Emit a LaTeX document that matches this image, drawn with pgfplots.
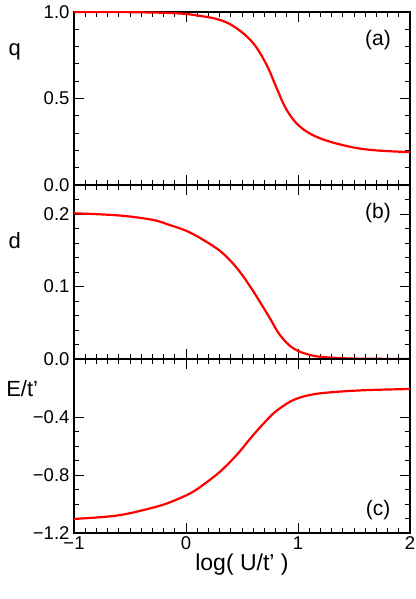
\documentclass[border=0pt]{standalone}
\usepackage{fontspec}
\setmainfont{Liberation Sans}
\usepackage{pgfplots}
\pgfplotsset{compat=1.18}

\definecolor{curveRed}{HTML}{FF0000}

\begin{document}
\begin{tikzpicture}
\path[use as bounding box] (0pt,0pt) rectangle (415pt,599pt);

\tikzset{
  lab/.style={font=\fontsize{21}{24}\selectfont},
  ylab/.style={font=\fontsize{22}{26}\selectfont},
}
\pgfplotsset{
  panel/.style={
    scale only axis,
    width=336pt,
    xmin=-1, xmax=2,
    xtick={-1,0,1,2},
    minor x tick num=9,
    xticklabels={},
    tick align=inside,
    xtick pos=both, ytick pos=both,
    major tick length=10pt,
    minor tick length=5pt,
    axis line style={line width=1.5pt},
    every tick/.style={line width=0.9pt, black},
    tick label style={font=\fontsize{18.5}{22}\selectfont},
    yticklabel style={xshift=-1pt},
    clip mode=individual,
  },
  curve/.style={color=curveRed, line width=2.2pt, smooth, tension=0.6, no marks},
}

% === Panel (a): q ===
\begin{axis}[panel, at={(74pt,414pt)}, anchor=south west, height=173pt,
    ymin=0, ymax=1,
    ytick={0,0.5,1}, yticklabels={0.0,0.5,1.0},
    minor y tick num=4]
\addplot[curve] coordinates {
  (-1,1.0) (-0.5,0.999) (-0.1,0.993) (0.1,0.980) (0.304,0.954) (0.452,0.906)
  (0.601,0.819) (0.72,0.694) (0.81,0.559) (0.899,0.434) (1.018,0.337)
  (1.196,0.270) (1.464,0.221) (1.7,0.200) (2,0.190)
};
\node[ylab] at (rel axis cs:-0.176,0.77) {q};
\node[lab] at (rel axis cs:0.905,0.84) {(a)};
\end{axis}

% === Panel (b): d ===
\begin{axis}[panel, at={(74pt,240pt)}, anchor=south west, height=174pt,
    ymin=0, ymax=0.24,
    ytick={0,0.1,0.2}, yticklabels={0.0,0.1,0.2},
    minor ytick={0.02,0.04,0.06,0.08,0.12,0.14,0.16,0.18,0.22}]
\addplot[curve] coordinates {
  (-1,0.201) (-0.6,0.198) (-0.3,0.192) (-0.15,0.185) (0,0.177) (0.125,0.167)
  (0.2,0.160) (0.304,0.149) (0.4,0.135) (0.482,0.120) (0.56,0.103)
  (0.631,0.086) (0.75,0.056) (0.839,0.033) (0.958,0.0147)
  (1.107,0.0055) (1.256,0.0023) (1.5,0.0006) (2,0)
};
\node[ylab] at (rel axis cs:-0.176,0.68) {d};
\node[lab] at (rel axis cs:0.905,0.84) {(b)};
\end{axis}

% === Panel (c): E/t' ===
\begin{axis}[panel, at={(74pt,66pt)}, anchor=south west, height=174pt,
    ymin=-1.2, ymax=0,
    ytick={-1.2,-0.8,-0.4}, yticklabels={−1.2,−0.8,−0.4},
    minor y tick num=3,
    xticklabels={−1,0,1,2},
    xlabel={log( U/t’ )},
    xlabel style={font=\fontsize{23}{26}\selectfont, yshift=3pt}]
\addplot[curve] coordinates {
  (-1,-1.103) (-0.62,-1.080) (-0.32,-1.030) (-0.16,-0.993) (0,-0.941)
  (0.08,-0.907) (0.155,-0.867) (0.304,-0.777) (0.452,-0.662) (0.601,-0.524)
  (0.75,-0.398) (0.839,-0.340) (0.958,-0.283) (1.107,-0.248) (1.286,-0.230)
  (1.6,-0.215) (2,-0.207)
};
\node[ylab, anchor=west] at (rel axis cs:-0.212,0.83) {E/t’};
\node[lab] at (rel axis cs:0.905,0.13) {(c)};
\end{axis}

\end{tikzpicture}
\end{document}
